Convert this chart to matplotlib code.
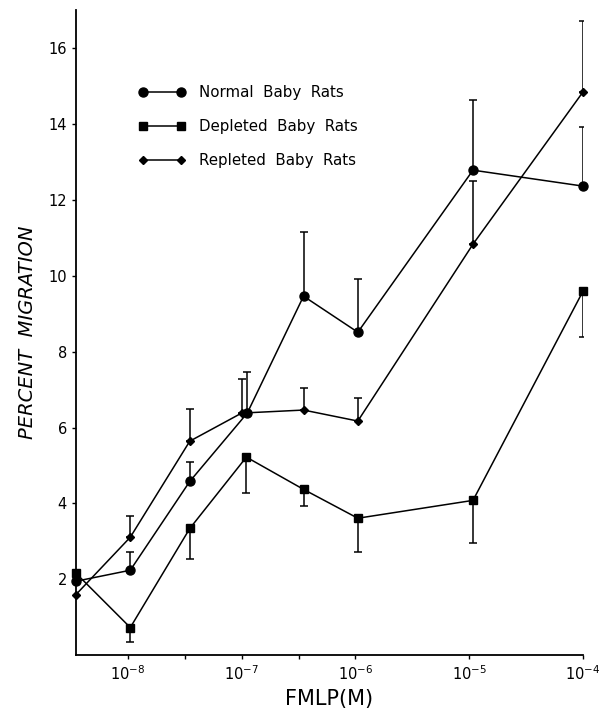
import matplotlib
matplotlib.use("Agg")
import matplotlib.pyplot as plt
from matplotlib.ticker import FixedLocator, NullLocator

plt.rcParams['font.family'] = ['DejaVu Sans']

# FMLP concentration (M) as plotted
conc_normal = [3.5e-9, 1.05e-8, 3.5e-8, 1.12e-7, 3.5e-7, 1.05e-6, 1.08e-5, 1.0e-4]
conc_depleted = [3.5e-9, 1.05e-8, 3.5e-8, 1.1e-7, 3.5e-7, 1.05e-6, 1.08e-5, 1.0e-4]
conc_repleted = [3.5e-9, 1.05e-8, 3.5e-8, 1.0e-7, 3.5e-7, 1.05e-6, 1.08e-5, 1.0e-4]

# percent migration
normal = [1.95, 2.24, 4.58, 6.38, 9.46, 8.51, 12.78, 12.36]
depleted = [2.16, 0.73, 3.34, 5.22, 4.37, 3.61, 4.08, 9.59]
repleted = [1.60, 3.11, 5.64, 6.38, 6.46, 6.17, 10.83, 14.84]

# error bars (one-sided: up for normal/repleted, down for depleted)
normal_err = [0, 0.47, 0.50, 1.08, 1.69, 1.40, 1.85, 1.56]
depleted_err = [0, 0.39, 0.81, 0.95, 0.45, 0.90, 1.11, 1.21]
repleted_err = [0, 0.55, 0.84, 0.89, 0.58, 0.60, 1.66, 1.87]

labels = ["Normal  Baby  Rats", "Depleted  Baby  Rats", "Repleted  Baby  Rats"]
x_ticks = [1e-8, 10**-7.5, 1e-7, 10**-6.5, 1e-6, 1e-5, 1e-4]
x_ticklabels = ["$10^{-8}$", "", "$10^{-7}$", "", "$10^{-6}$", "$10^{-5}$", "$10^{-4}$"]
y_ticks = [2, 4, 6, 8, 10, 12, 14, 16]

fig = plt.figure(figsize=(6.13, 7.13), dpi=100)
ax = fig.add_axes([0.124, 0.081, 0.827, 0.905])

series = [
    (conc_normal, normal, normal_err, "o", 6.5, "up"),
    (conc_depleted, depleted, depleted_err, "s", 6.0, "down"),
    (conc_repleted, repleted, repleted_err, "D", 4.5, "up"),
]

for (x, y, err, mk, ms, side), lab in zip(series, labels):
    ax.plot(x, y, color="black", lw=1.1, marker=mk, ms=ms, clip_on=False,
            label=lab, zorder=3)
    zeros = [0] * (len(err) - 1)
    yerr = [zeros, err[1:]] if side == "up" else [err[1:], zeros]
    ax.errorbar(x[1:], y[1:], yerr=yerr, fmt="none", ecolor="black",
                elinewidth=1.1, capsize=3, capthick=1.1, zorder=2)

ax.set_xscale("log")
ax.set_xlim(3.5e-9, 1.0e-4)
ax.set_ylim(0, 17)

ax.xaxis.set_major_locator(FixedLocator(x_ticks))
ax.xaxis.set_minor_locator(NullLocator())
ax.set_xticklabels(x_ticklabels)
ax.set_yticks(y_ticks)
ax.tick_params(direction="out", length=3, width=1, labelsize=10.5)

for s in ["top", "right"]:
    ax.spines[s].set_visible(False)
for s in ["left", "bottom"]:
    ax.spines[s].set_linewidth(1.3)

ax.set_xlabel("FMLP(M)", fontsize=15, labelpad=4)
ax.set_ylabel("PERCENT  MIGRATION", fontsize=14, style="italic", labelpad=8)

ax.legend(loc="upper left", bbox_to_anchor=(0.124, 0.884), frameon=False,
          numpoints=2, handlelength=3.1, labelspacing=1.27, borderpad=0,
          borderaxespad=0, handletextpad=0.9, fontsize=10.8)

fig.savefig("out.png", dpi=100)
